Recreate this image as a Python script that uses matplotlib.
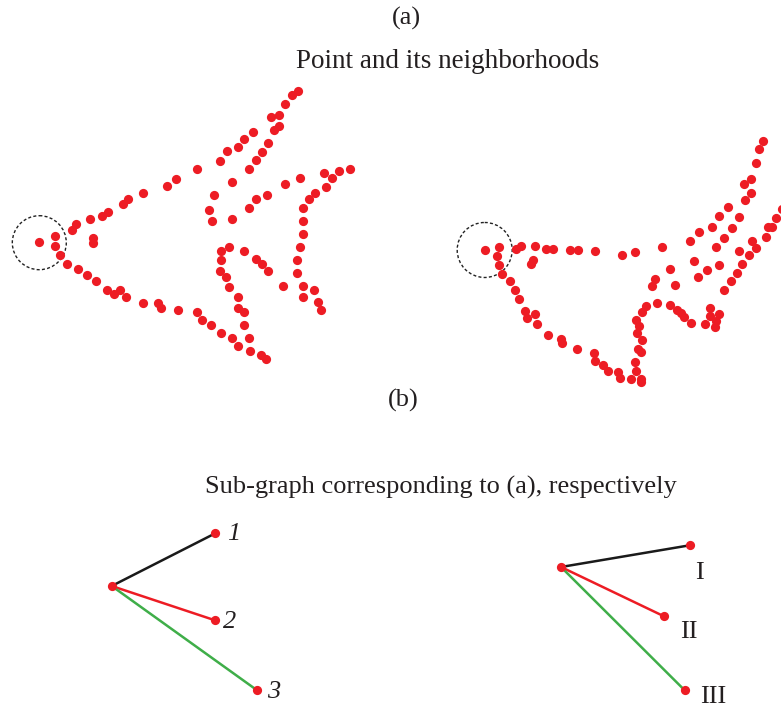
import matplotlib.pyplot as plt
from matplotlib.patches import Circle

# Point cloud of the first shape (pixel coordinates, y grows downward)
shape_a_x = [39, 54.7, 54.7, 60.3, 66.7, 78, 86.7, 96, 107.3, 114, 120, 125.7, 143, 158, 161,
             178.3, 71.7, 75.7, 89.7, 102.3, 107.7, 123, 128.3, 143.3, 167, 176.3, 92.7, 92.7,
             197, 220, 226.7, 238.3, 244.3, 253.3, 249.3, 256, 262.3, 267.7, 273.7, 279.3,
             270.7, 279.3, 285, 292, 297.7, 232, 214, 208.7, 212, 232.3, 249.3, 256, 267.3,
             285, 300, 324, 332.3, 338.7, 350, 326.3, 315, 309, 302.7, 302.7, 303.3, 300.3,
             297, 297, 302.7, 302.7, 314.3, 318.3, 320.7, 282.7, 267.7, 262, 255.7, 244,
             229.3, 220.7, 220.7, 220.3, 226, 229.3, 238.3, 237.7, 244.3, 244, 249.3, 250,
             238.3, 232, 220.7, 211.3, 202.3, 196.7, 260.7, 265.7]
shape_a_y = [242.3, 235.7, 246, 255, 264.3, 268.7, 275, 281.3, 290, 294, 289.7, 297, 303,
             302.7, 307.7, 309.7, 230, 224.3, 219, 216.3, 211.7, 203.7, 199, 192.7, 186.3,
             179.3, 238, 243.3, 169, 160.7, 151.3, 147, 138.7, 131.7, 169.3, 160.3, 151.7,
             143.3, 130, 126, 116.7, 114.7, 104, 95, 90.7, 181.7, 195, 210.3, 221, 218.7,
             208.3, 199.3, 195.3, 184, 177.7, 173, 177.7, 171, 168.7, 186.7, 192.7, 199,
             207.7, 221.3, 234, 247, 260.3, 273, 286.3, 296.7, 290, 301.7, 309.7, 286.3, 271,
             264.3, 259.3, 251.3, 246.7, 251, 260, 271, 277.3, 286.7, 297, 307.7, 312.3,
             324.7, 338.3, 350.7, 346.3, 337.7, 333.3, 325, 320, 311.7, 355.3, 359.3]

# Point cloud of the second shape
shape_b_x = [485, 499, 496.7, 499, 501.7, 509.7, 515, 519, 524.7, 527.3, 534.7, 536.7, 548.3,
             561.3, 562.3, 577.3, 594, 595, 603, 608, 617.7, 620, 516.3, 520.7, 535.3, 546.3,
             553.3, 570.3, 577.7, 595.3, 622.3, 530.7, 532.7, 635.3, 661.7, 689.7, 699, 711.7,
             718.7, 728, 745.3, 750.7, 744, 751, 755.7, 759.3, 763, 739, 732.3, 724, 715.7,
             719.3, 707.3, 697.7, 693.7, 669.7, 655, 652, 675, 657.3, 646, 641.7, 636, 638.7,
             637, 641.7, 637.7, 641.3, 635.3, 636, 641, 641.3, 630.7, 670.3, 677, 681, 684.3,
             691, 705.3, 709.7, 709.7, 719, 716.3, 715, 723.7, 731.3, 736.7, 741.7, 749.3,
             738.7, 755.7, 752, 765.7, 767.7, 772.3, 776.3, 781.5]
shape_b_y = [250.3, 247, 256.3, 264.7, 274, 280.7, 289.7, 298.7, 311.3, 318, 314.3, 323.7,
             334.7, 338.7, 343.3, 348.7, 353.3, 360.7, 364.7, 371, 372, 377.7, 248.7, 246,
             246.3, 249, 249, 250.3, 250.3, 251.3, 255, 263.7, 259.7, 252.3, 247.3, 241, 232,
             227, 216.3, 206.7, 199.7, 192.7, 183.7, 178.7, 162.7, 149, 141.3, 217, 228, 238,
             247, 264.7, 270.3, 277, 260.7, 269.3, 278.7, 286, 285.3, 303.3, 306, 312, 320,
             326.3, 332.7, 340, 349, 352.3, 362, 370.7, 378.7, 381.7, 379.3, 305.3, 310.3, 313,
             316.7, 323.3, 323.7, 308.3, 316, 314.3, 321, 327, 290, 281, 272.7, 263.7, 255.3,
             251.3, 248, 241.3, 236.7, 227.3, 227.3, 218, 209.3]

# Neighborhood circles: centre x, centre y, radius
circle_cx = [39.3, 484.7]
circle_cy = [242.7, 250]
circle_r = [27, 27.5]

# Sub-graphs: root node and three leaf nodes each
root_x = [111.7, 561]
root_y = [586, 567]
leaf_x = [[215.3, 215, 256.7], [689.7, 664, 684.7]]
leaf_y = [[533.3, 620.3, 690], [545.3, 616.3, 690.3]]
leaf_labels = [['1', '2', '3'], ['I', 'II', 'III']]
label_x = [[227, 223, 267], [699, 689, 713]]
label_y = [[534, 622, 692], [573, 632, 697]]
edge_colors = ['#1a1a1a', '#ed1c24', '#3fae49']

RED = '#ed1c24'
INK = '#231f20'
SERIF = 'Liberation Serif'
DOT = 44

fig = plt.figure(figsize=(7.81, 7.10), dpi=100)
ax = fig.add_axes([0, 0, 1, 1])
ax.set_xlim(0, 781)
ax.set_ylim(710, 0)
ax.axis('off')

ax.scatter(shape_a_x, shape_a_y, s=DOT, color=RED, linewidths=0, zorder=3)
ax.scatter(shape_b_x, shape_b_y, s=DOT, color=RED, linewidths=0, zorder=3)

for cx, cy, r in zip(circle_cx, circle_cy, circle_r):
    ax.add_patch(Circle((cx, cy), r, fill=False, edgecolor='#222222',
                        linestyle=(0, (2.2, 1.6)), linewidth=1.0))

for g in range(2):
    for k in range(3):
        ax.plot([root_x[g], leaf_x[g][k]], [root_y[g], leaf_y[g][k]],
                color=edge_colors[k], linewidth=1.8, zorder=2)
    ax.scatter(leaf_x[g], leaf_y[g], s=DOT, color=RED, linewidths=0, zorder=3)
    ax.scatter([root_x[g]], [root_y[g]], s=DOT, color=RED, linewidths=0, zorder=3)
    for k in range(3):
        ax.text(label_x[g][k], label_y[g][k], leaf_labels[g][k], fontsize=19,
                family=SERIF, style='italic' if g == 0 else 'normal',
                ha='left' if g == 0 else 'center', va='center', color=INK)

ax.text(406, 18, '(a)', fontsize=19, family=SERIF, ha='center', va='center', color=INK)
ax.text(448, 62, 'Point and its neighborhoods', fontsize=19.5, family=SERIF,
        ha='center', va='center', color=INK)
ax.text(403, 400, '(b)', fontsize=19, family=SERIF, ha='center', va='center', color=INK)
ax.text(441, 487, 'Sub-graph corresponding to (a), respectively', fontsize=19, family=SERIF,
        ha='center', va='center', color=INK)

fig.savefig('out.png', dpi=100)
